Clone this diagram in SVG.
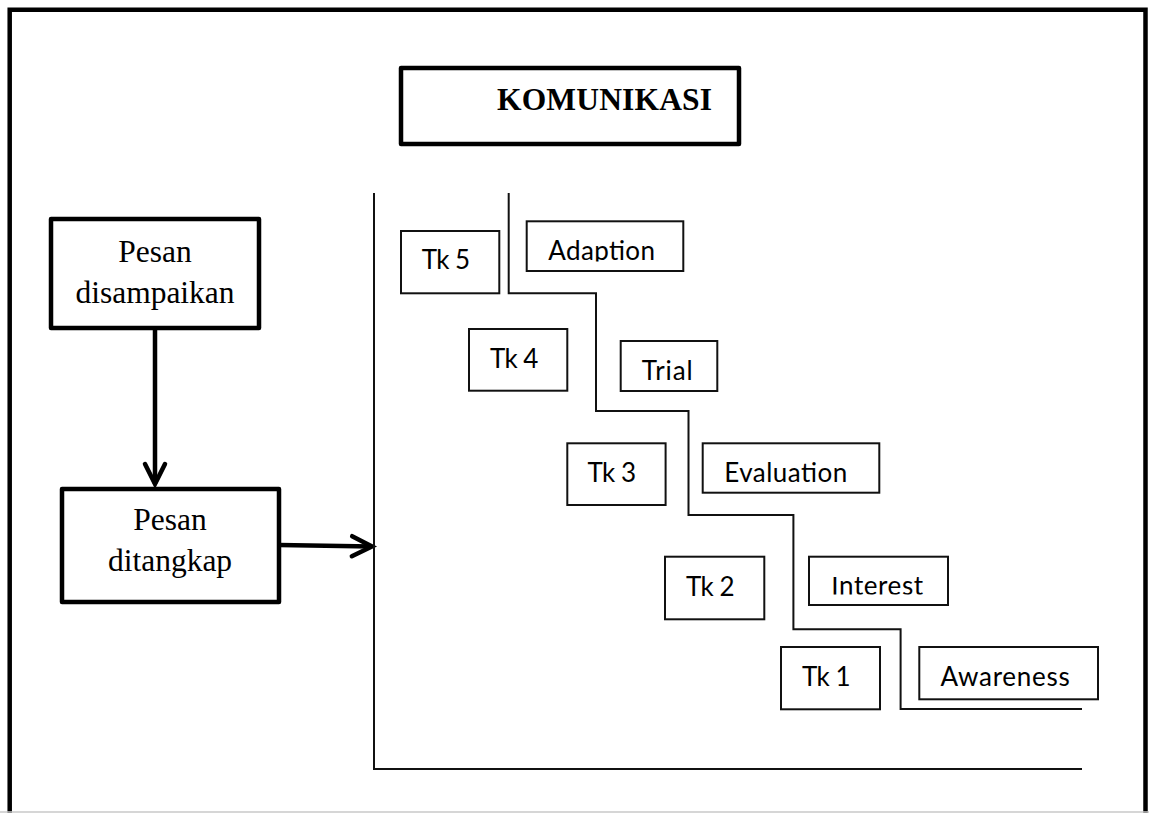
<svg xmlns="http://www.w3.org/2000/svg" width="1149" height="813" viewBox="0 0 1149 813">
<style>
.thick{fill:#fff;stroke:#000;stroke-width:4.5;stroke-linejoin:round}
.thin{fill:#fff;stroke:#111;stroke-width:2}
.ln{fill:none;stroke:#111;stroke-width:2}
.ser{font-family:"Liberation Serif","Times New Roman",serif;font-size:31.5px;fill:#000}
.sans{font-family:Lato,"Open Sans",sans-serif;font-size:26px;fill:#000}
.conn{fill:none;stroke:#000;stroke-width:4.5}
</style>
<defs>
<marker id="arr" markerUnits="userSpaceOnUse" markerWidth="34" markerHeight="34" viewBox="-27 -17 34 34" refX="0" refY="0" orient="auto">
<path d="M-20,-10 L0,0 L-20,10" fill="none" stroke="#000" stroke-width="4.5" stroke-linecap="round"/>
</marker>
<clipPath id="clipA"><rect x="527" y="222" width="156" height="39.5"/></clipPath>
<clipPath id="clipI"><rect x="809" y="577" width="139" height="17.5"/></clipPath>
</defs>
<rect width="1149" height="813" fill="#fff"/>
<g id="frame">
<path d="M9.7,813 V9.7 H1145.5 V813" fill="none" stroke="#000" stroke-width="4.5"/>
<line x1="0" y1="812" x2="1149" y2="812" stroke="#c8c8c8" stroke-width="1.5"/>
</g>
<g id="komunikasi">
<rect class="thick" x="401" y="68" width="338" height="76"/>
<text class="ser" x="497" y="110" font-weight="bold" font-size="32" textLength="215">KOMUNIKASI</text>
</g>
<g id="pesan-disampaikan">
<rect class="thick" x="51" y="219" width="208" height="109"/>
<text class="ser" x="155" y="262" text-anchor="middle">Pesan</text>
<text class="ser" x="155" y="303" text-anchor="middle">disampaikan</text>
</g>
<g id="pesan-ditangkap">
<rect class="thick" x="62" y="489" width="217" height="113"/>
<text class="ser" x="170" y="530" text-anchor="middle">Pesan</text>
<text class="ser" x="170" y="571" text-anchor="middle">ditangkap</text>
</g>
<g id="connectors">
<line class="conn" x1="155" y1="328" x2="155" y2="484" marker-end="url(#arr)"/>
<line class="conn" x1="279" y1="545" x2="372" y2="546.5" marker-end="url(#arr)"/>
</g>
<g id="chart">
<path class="ln" d="M374,193 V769 H1082"/>
<path class="ln" d="M508.7,193 V293.3 H596 V411 H688.5 V515 H793.4 V629.3 H900.6 V709 H1082"/>
</g>
<g id="tk5">
<rect class="thin" x="401" y="231" width="98.3" height="62.3"/>
<text class="sans" x="421.7" y="269.3" textLength="48.3">Tk 5</text>
</g>
<g id="tk4">
<rect class="thin" x="469" y="329" width="98.3" height="61.7"/>
<text class="sans" x="490" y="368.3" textLength="48.3">Tk 4</text>
</g>
<g id="tk3">
<rect class="thin" x="567.3" y="443.3" width="98.3" height="61.7"/>
<text class="sans" x="587.5" y="481.7" textLength="48.5">Tk 3</text>
</g>
<g id="tk2">
<rect class="thin" x="665" y="556.7" width="99.3" height="62.6"/>
<text class="sans" x="686" y="595.7" textLength="48.5">Tk 2</text>
</g>
<g id="tk1">
<rect class="thin" x="781" y="647" width="99" height="62.3"/>
<text class="sans" x="802" y="685.7" textLength="48.5">Tk 1</text>
</g>
<g id="adaption">
<rect class="thin" x="526.7" y="221.3" width="156.6" height="49.7"/>
<text class="sans" x="548.3" y="260" textLength="106.7" clip-path="url(#clipA)">Adaption</text>
</g>
<g id="trial">
<rect class="thin" x="620.7" y="341" width="96.6" height="50"/>
<text class="sans" x="641.7" y="380" textLength="51">Trial</text>
</g>
<g id="evaluation">
<rect class="thin" x="702.7" y="443.3" width="176.6" height="49.4"/>
<text class="sans" x="724.3" y="481.7" textLength="123">Evaluation</text>
</g>
<g id="interest">
<rect class="thin" x="809" y="556.7" width="139" height="48.3"/>
<text class="sans" x="831.3" y="595" textLength="91.8" clip-path="url(#clipI)">Interest</text>
</g>
<g id="awareness">
<rect class="thin" x="919.3" y="647" width="178.7" height="52.3"/>
<text class="sans" x="940.4" y="685.7" textLength="129.3">Awareness</text>
</g>
</svg>
